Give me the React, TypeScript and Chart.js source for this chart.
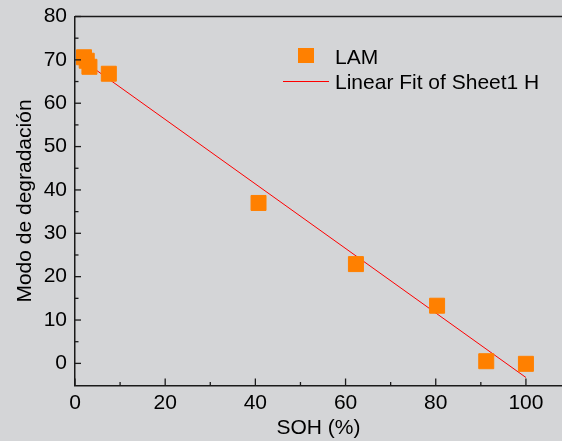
import React, { useEffect, useRef } from "react";
import { Chart, registerables } from "chart.js";

Chart.register(...registerables);

// Data
const lamX = [2.0, 2.6, 3.2, 7.5, 40.7, 62.3, 80.3, 91.2, 100.0];
const lamY = [70.6, 69.8, 68.4, 66.8, 37.0, 22.9, 13.3, 0.5, -0.1];
const fitX = [2.2, 100.0];
const fitY = [69.5, -3.25];
const xTicks = [0, 20, 40, 60, 80, 100];
const yTicks = [0, 10, 20, 30, 40, 50, 60, 70, 80];
const xMinor = [10, 30, 50, 70, 90];
const yMinor = [5, 15, 25, 35, 45, 55, 65, 75];
const seriesNames = ["LAM", "Linear Fit of Sheet1 H"];
const xTitle = "SOH (%)";
const yTitle = "Modo de degradación";

const BG = "#d4d5d7";
const FONT = "'Liberation Sans', Arial, sans-serif";
const ORANGE = "#ff8000";
const RED = "#ff0000";
const FS = 21;

const framePlugin = {
  id: "frame",
  beforeDraw(chart: any) {
    const { ctx, width, height } = chart;
    ctx.save();
    ctx.fillStyle = BG;
    ctx.fillRect(0, 0, width, height);
    ctx.restore();
  },
  afterDraw(chart: any) {
    const { ctx, chartArea } = chart;
    const xs = chart.scales.x;
    const ys = chart.scales.y;
    ctx.save();
    ctx.strokeStyle = "#1a1a1a";
    ctx.lineWidth = 1.5;
    // top line
    ctx.beginPath();
    ctx.moveTo(chartArea.left, chartArea.top);
    ctx.lineTo(chartArea.right, chartArea.top);
    ctx.stroke();
    ctx.lineWidth = 1.3;
    const bot = chartArea.bottom;
    const left = chartArea.left;
    const tick = (v: number, len: number, axis: "x" | "y") => {
      ctx.beginPath();
      if (axis === "x") {
        const p = xs.getPixelForValue(v);
        ctx.moveTo(p, bot);
        ctx.lineTo(p, bot - len);
      } else {
        const p = ys.getPixelForValue(v);
        ctx.moveTo(left, p);
        ctx.lineTo(left + len, p);
      }
      ctx.stroke();
    };
    xTicks.forEach((v) => tick(v, 7, "x"));
    xMinor.forEach((v) => tick(v, 3.5, "x"));
    yTicks.forEach((v) => tick(v, 6, "y"));
    yMinor.forEach((v) => tick(v, 3.5, "y"));

    // legend
    ctx.fillStyle = ORANGE;
    ctx.fillRect(298, 48, 16, 15);
    ctx.strokeStyle = RED;
    ctx.lineWidth = 1;
    ctx.beginPath();
    ctx.moveTo(283, 81.5);
    ctx.lineTo(329, 81.5);
    ctx.stroke();
    ctx.fillStyle = "#000";
    ctx.font = `${FS}px ${FONT}`;
    ctx.textBaseline = "alphabetic";
    ctx.textAlign = "left";
    ctx.fillText(seriesNames[0], 335, 63.5);
    ctx.fillText(seriesNames[1], 335, 89);
    ctx.restore();
  },
};

export default function App() {
  const ref = useRef<HTMLCanvasElement | null>(null);
  useEffect(() => {
    document.body.style.margin = "0";
    document.body.style.background = BG;
    const canvas = ref.current!;
    const chart = new Chart(canvas, {
      type: "scatter",
      data: {
        datasets: [
          {
            label: seriesNames[0],
            data: lamX.map((x, i) => ({ x, y: lamY[i] })),
            pointStyle: "rect",
            pointRadius: 10.6,
            pointBackgroundColor: ORANGE,
            pointBorderColor: ORANGE,
            pointBorderWidth: 1,
            showLine: false,
            clip: false,
          } as any,
          {
            type: "line",
            label: seriesNames[1],
            data: fitX.map((x, i) => ({ x, y: fitY[i] })),
            borderColor: RED,
            borderWidth: 1,
            pointRadius: 0,
            fill: false,
          } as any,
        ],
      },
      options: {
        animation: false,
        responsive: false,
        devicePixelRatio: 1,
        layout: { autoPadding: false, padding: { left: 0, right: 0, top: 16.5, bottom: 0 } },
        plugins: { legend: { display: false }, tooltip: { enabled: false } },
        scales: {
          x: {
            type: "linear",
            min: 0,
            max: 108,
            afterBuildTicks: (s: any) => {
              s.ticks = xTicks.map((v) => ({ value: v }));
            },
            afterFit: (s: any) => {
              s.height = 55.5;
              s.paddingLeft = 0;
              s.paddingRight = 0;
            },
            grid: { drawOnChartArea: false, drawTicks: false },
            border: { display: true, color: "#1a1a1a", width: 1.5 },
            ticks: {
              padding: 5,
              color: "#000",
              font: { family: FONT, size: FS },
              maxRotation: 0,
            },
            title: {
              display: true,
              text: xTitle,
              color: "#000",
              font: { family: FONT, size: FS },
              padding: { top: 0, bottom: 0 },
            },
          },
          y: {
            type: "linear",
            min: -5.1,
            max: 80,
            afterBuildTicks: (s: any) => {
              s.ticks = yTicks.map((v) => ({ value: v }));
            },
            afterFit: (s: any) => {
              s.width = 75;
              s.paddingTop = 0;
              s.paddingBottom = 0;
            },
            grid: { drawOnChartArea: false, drawTicks: false },
            border: { display: true, color: "#1a1a1a", width: 1.5 },
            ticks: {
              padding: 8,
              color: "#000",
              font: { family: FONT, size: FS },
            },
            title: {
              display: true,
              text: yTitle,
              color: "#000",
              font: { family: FONT, size: FS },
              padding: { top: 12.5, bottom: 0 },
            },
          },
        },
      },
      plugins: [framePlugin],
    });
    return () => chart.destroy();
  }, []);
  return (
    <div style={{ width: 562, height: 441, background: BG }}>
      <canvas ref={ref} width={562} height={441} style={{ display: "block" }} />
    </div>
  );
}
